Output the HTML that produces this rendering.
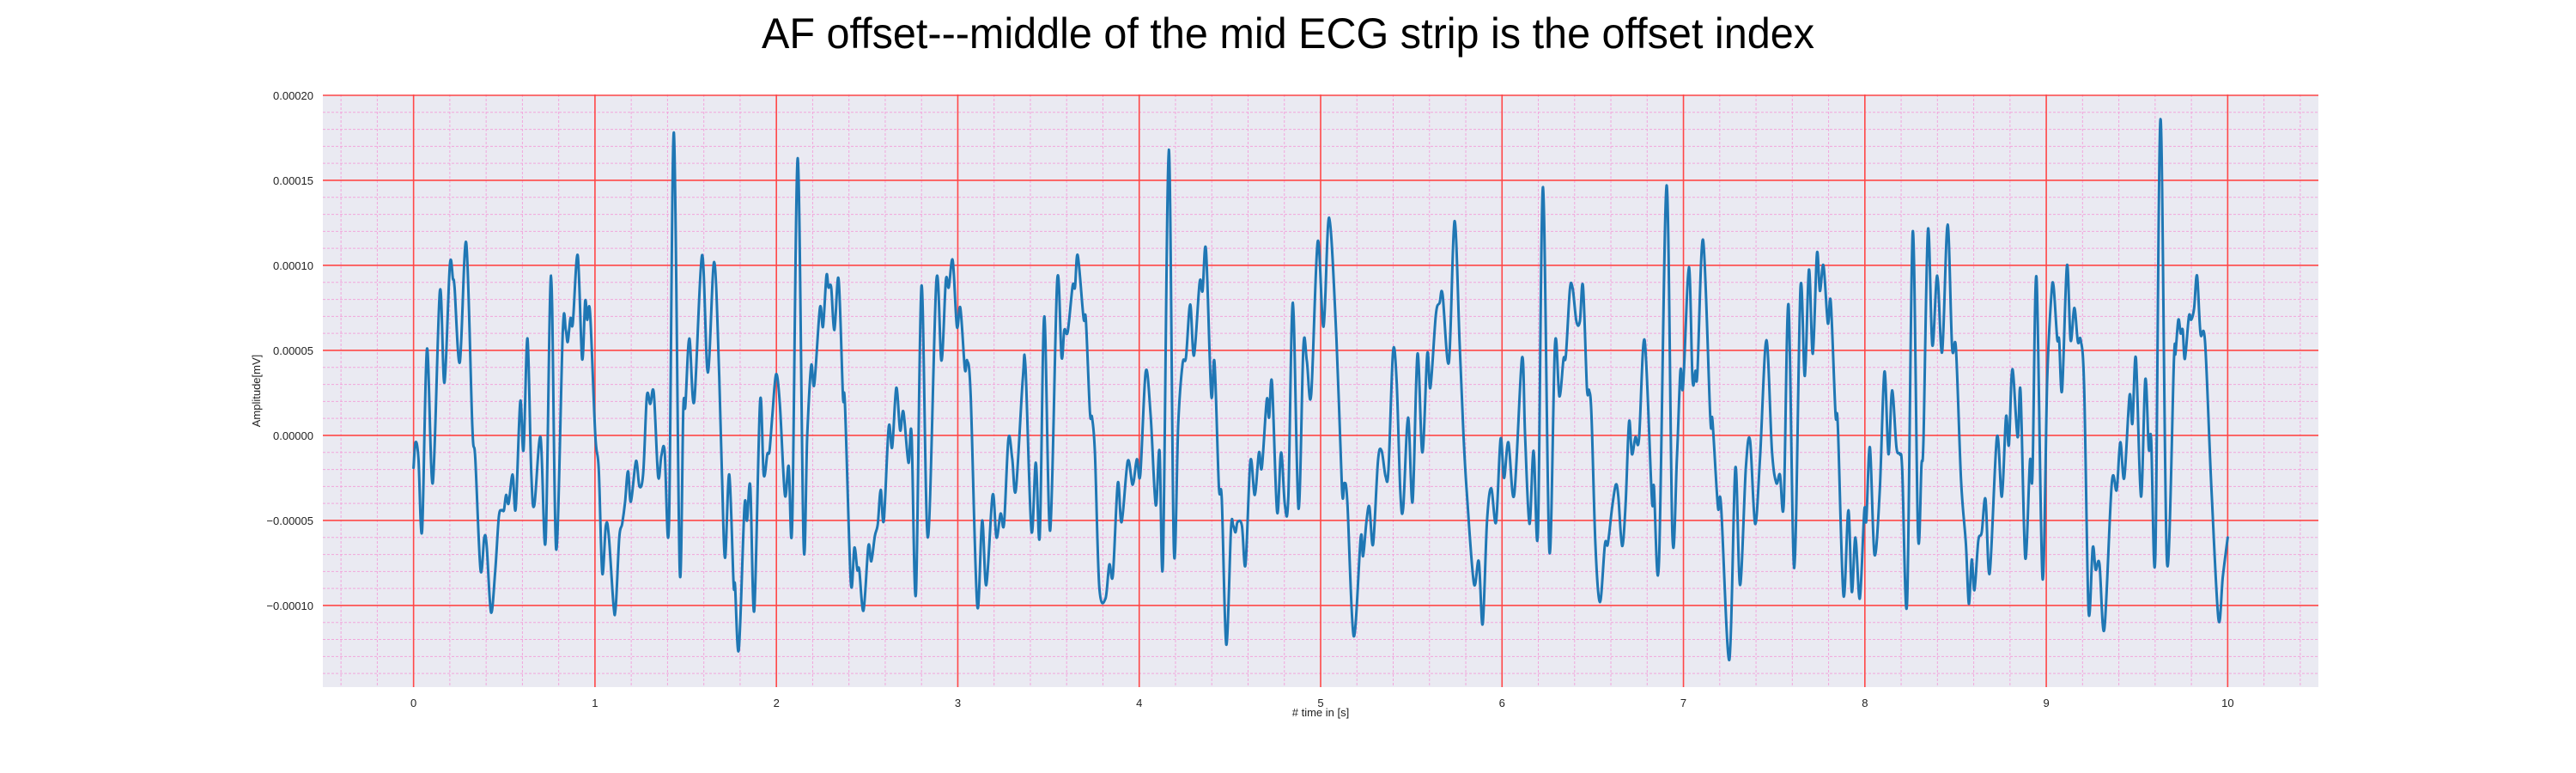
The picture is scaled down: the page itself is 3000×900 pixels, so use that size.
<!DOCTYPE html>
<html><head><meta charset="utf-8"><title>AF offset chart</title>
<style>
html,body{margin:0;padding:0;background:#fff;}
svg{display:block;font-family:"Liberation Sans",Arial,sans-serif;}
</style></head>
<body>
<svg id="chart" width="3000" height="900" viewBox="0 0 3000 900" xmlns="http://www.w3.org/2000/svg">
<text x="1500" y="56" text-anchor="middle" font-size="50" textLength="1226" lengthAdjust="spacingAndGlyphs" fill="#000">AF offset---middle of the mid ECG strip is the offset index</text>
<rect x="376" y="110" width="2324" height="690" fill="#eaeaf2"/>
<g id="grid"></g>
<g id="ticks"></g>
<g id="series"></g>
<text x="1538" y="834" text-anchor="middle" font-size="13" fill="#222"># time in [s]</text>
<text transform="translate(303,455) rotate(-90)" text-anchor="middle" font-size="13" fill="#222">Amplitude[mV]</text>
</svg>
<script>
// values in units of 1e-5 mV
const valueScale = 1e-5;
const xTickLabels = ["0","1","2","3","4","5","6","7","8","9","10"];
const yTickValues = [-0.0001,-0.00005,0,0.00005,0.0001,0.00015,0.0002];
const yTickLabels = ["\u22120.00010","\u22120.00005","0.00000","0.00005","0.00010","0.00015","0.00020"];
const times = [0,0.011,0.027,0.047,0.074,0.106,0.145,0.17,0.2,0.217,0.226,0.255,0.29,0.324,0.34,0.369,0.39,0.403,0.427,0.45,0.47,0.486,0.498,0.51,0.524,0.546,0.563,0.588,0.606,0.628,0.649,0.666,0.7,0.728,0.758,0.786,0.823,0.839,0.85,0.865,0.878,0.905,0.929,0.946,0.957,0.973,1.002,1.021,1.04,1.06,1.076,1.103,1.115,1.134,1.15,1.166,1.182,1.198,1.226,1.245,1.266,1.286,1.305,1.324,1.348,1.366,1.384,1.408,1.435,1.467,1.487,1.498,1.52,1.547,1.59,1.622,1.657,1.685,1.7,1.717,1.74,1.764,1.772,1.793,1.824,1.838,1.856,1.878,1.91,1.93,1.95,1.962,1.978,1.998,
2.019,2.047,2.068,2.087,2.118,2.15,2.17,2.192,2.209,2.24,2.257,2.276,2.287,2.302,2.32,2.343,2.367,2.378,2.41,2.43,2.446,2.457,2.48,2.507,2.523,2.543,2.559,2.575,2.592,2.619,2.638,2.661,2.682,2.7,2.728,2.745,2.769,2.8,2.835,2.882,2.91,2.934,2.95,2.972,2.995,3.014,3.039,3.052,3.071,3.107,3.134,3.157,3.192,3.213,3.236,3.255,3.279,3.3,3.32,3.358,3.373,3.406,3.43,3.452,3.477,3.509,3.548,3.572,3.587,3.606,3.633,3.646,3.661,3.693,3.706,3.728,3.74,3.756,3.78,3.814,3.835,3.855,3.882,3.903,3.937,3.964,3.987,4.006,
4.036,4.063,4.091,4.112,4.131,4.163,4.191,4.215,4.239,4.258,4.281,4.302,4.333,4.349,4.368,4.397,4.415,4.439,4.455,4.48,4.506,4.518,4.531,4.542,4.566,4.586,4.613,4.637,4.66,4.676,4.703,4.716,4.732,4.76,4.782,4.803,4.822,4.847,4.878,4.905,4.924,4.948,4.984,5.016,5.047,5.087,5.118,5.131,5.147,5.182,5.221,5.234,5.253,5.269,5.289,5.316,5.336,5.358,5.374,5.399,5.419,5.439,5.455,5.482,5.507,5.534,5.561,5.588,5.605,5.635,5.656,5.672,5.707,5.738,5.766,5.787,5.806,5.845,5.872,5.893,5.917,5.94,5.967,5.992,6.011,6.035,
6.067,6.11,6.127,6.151,6.174,6.198,6.226,6.261,6.292,6.316,6.339,6.352,6.374,6.39,6.41,6.429,6.446,6.468,6.48,6.493,6.515,6.54,6.567,6.583,6.606,6.627,6.641,6.662,6.681,6.7,6.716,6.735,6.755,6.786,6.826,6.837,6.865,6.907,6.939,6.964,6.983,6.998,7.03,7.05,7.066,7.077,7.108,7.148,7.16,7.19,7.207,7.253,7.286,7.312,7.344,7.367,7.395,7.422,7.457,7.488,7.512,7.532,7.553,7.579,7.611,7.645,7.669,7.692,7.713,7.736,7.752,7.772,7.796,7.812,7.838,7.851,7.882,7.909,7.928,7.948,7.972,7.997,8.008,8.028,8.053,8.082,8.108,
8.13,8.15,8.174,8.193,8.206,8.233,8.264,8.293,8.312,8.323,8.348,8.372,8.399,8.426,8.456,8.481,8.502,8.53,8.557,8.573,8.589,8.604,8.625,8.644,8.665,8.688,8.728,8.755,8.778,8.794,8.813,8.842,8.858,8.884,8.91,8.924,8.946,8.979,9.005,9.027,9.04,9.06,9.071,9.087,9.114,9.134,9.155,9.174,9.19,9.209,9.233,9.256,9.272,9.293,9.32,9.361,9.388,9.408,9.43,9.459,9.475,9.494,9.522,9.546,9.565,9.578,9.601,9.63,9.665,9.704,9.712,9.728,9.741,9.752,9.764,9.786,9.799,9.815,9.831,9.85,9.875,9.91,9.949,9.973,10.0];
const amplitudes = [-1.9,-0.4,-1.35,-5.6,5.1,-2.8,8.5,3.1,10.0,9.2,8.7,4.3,11.35,0.5,-1.35,-7.9,-6.0,-6.5,-10.4,-8.0,-4.8,-4.4,-4.4,-3.5,-4.0,-2.3,-4.3,2.0,-0.85,5.7,-2.3,-4.1,-0.1,-6.2,9.4,-6.7,6.2,6.2,5.5,6.9,6.6,10.6,4.5,7.9,6.8,7.2,0.0,-2.0,-8.1,-5.3,-5.9,-10.1,-10.0,-6.0,-5.2,-3.9,-2.1,-3.9,-1.5,-3.0,-2.2,2.3,1.85,2.5,-2.4,-1.2,-0.9,-5.2,17.8,-7.9,1.6,1.7,5.7,2.0,10.6,3.7,10.2,3.5,-2.3,-7.2,-2.3,-8.7,-8.8,-12.6,-4.2,-5.0,-3.0,-10.3,2.0,-2.3,-1.1,-0.9,1.2,3.6,
1.85,-3.5,-1.8,-5.2,16.3,-6.4,0.0,4.1,3.0,7.5,6.4,9.4,8.7,8.7,6.2,9.2,2.3,1.85,-8.6,-6.6,-7.9,-7.9,-10.3,-6.5,-7.4,-5.9,-5.2,-3.2,-5.0,0.5,-0.7,2.8,0.3,1.4,-1.6,0.1,-9.3,8.8,-6.0,9.1,4.4,9.1,8.7,10.3,6.4,7.5,3.9,4.4,2.3,-10.0,-5.0,-8.8,-3.5,-6.0,-4.6,-5.2,-0.2,-1.35,-3.2,3.3,4.0,-5.6,-1.6,-5.9,7.0,-5.6,9.1,4.6,6.2,6.1,8.8,8.7,10.6,6.9,6.8,1.4,1.05,-1.1,-8.9,-9.6,-7.6,-8.2,-2.8,-5.1,-1.5,-2.9,-1.4,-2.3,
3.75,1.2,-4.1,-0.9,-7.4,16.8,-6.7,0.7,4.2,4.6,7.7,4.7,9.0,8.5,10.9,2.4,4.3,-3.0,-3.75,-12.3,-5.5,-5.3,-5.7,-5.1,-5.3,-7.6,-1.5,-3.5,-1.0,-1.9,2.1,1.05,3.1,-4.5,-1.0,-4.1,-3.6,7.8,-4.3,5.2,4.4,2.4,11.4,6.4,12.8,5.7,-3.2,-2.8,-3.9,-11.8,-6.0,-7.1,-5.0,-4.2,-6.4,-1.5,-0.9,-2.4,-2.0,4.9,3.2,-3.2,-4.3,1.05,-3.9,4.8,-1.0,4.8,2.8,7.1,7.8,8.3,4.3,12.6,5.5,0.1,-3.4,-8.7,-7.4,-11.1,-5.1,-3.1,-5.1,-0.2,-2.5,-0.4,
-3.5,4.55,0.0,-5.2,-0.9,-5.65,14.6,-6.8,5.4,2.3,4.5,4.7,8.6,8.6,6.7,6.7,8.8,2.8,2.65,1.2,-6.5,-9.8,-6.4,-6.4,-4.3,-2.9,-3.6,-6.5,-4.1,0.8,-1.1,-0.1,-0.2,5.6,-3.75,-3.0,-7.5,14.7,-5.9,-1.35,3.8,2.9,9.9,3.3,3.8,3.7,11.5,1.05,0.9,-4.2,-4.1,-13.2,-1.9,-8.8,-1.9,-0.3,-5.2,-1.35,5.6,-0.9,-2.8,-2.3,-4.0,7.7,-7.8,8.65,3.5,9.75,4.8,10.7,8.5,10.0,6.6,7.85,1.3,0.6,-9.4,-4.4,-9.2,-6.0,-9.6,-4.4,-5.0,-0.7,-7.0,-3.3,3.75,
-1.1,2.65,-0.7,-1.1,-2.0,-9.8,12.0,-5.8,-1.8,-0.2,12.1,5.3,9.4,4.9,12.4,5.2,5.1,-2.6,-6.4,-9.9,-7.3,-9.1,-6.2,-5.7,-3.75,-8.1,-0.1,-3.6,1.1,-0.55,3.9,-0.1,2.6,-7.2,-1.5,-2.3,9.3,-8.4,3.2,8.1,8.8,5.7,5.6,2.65,10.0,5.6,7.5,5.5,5.6,2.8,-10.3,-6.6,-7.9,-7.55,-11.4,-2.8,-3.2,-0.4,-2.5,2.35,0.7,4.55,-3.6,3.3,-0.8,-0.2,-7.1,18.6,-7.4,4.5,4.8,6.8,6.0,6.2,4.5,7.0,6.8,7.5,9.4,6.0,5.5,-3.0,-10.8,-8.3,-6.0];

const NS = "http://www.w3.org/2000/svg";
const PX0 = 376, PX1 = 2700, PY0 = 110, PY1 = 800;
const XMIN = -0.5, XMAX = 10.5, YMIN = -14.8e-5, YMAX = 20.05e-5;
function xs(t){ return PX0 + (t - XMIN) / (XMAX - XMIN) * (PX1 - PX0); }
function ys(v){ return PY1 - (v - YMIN) / (YMAX - YMIN) * (PY1 - PY0); }

const grid = document.getElementById('grid');
const ticks = document.getElementById('ticks');
function line(x1,y1,x2,y2,stroke,w,dash){
  const l = document.createElementNS(NS,'line');
  l.setAttribute('x1',x1); l.setAttribute('y1',y1); l.setAttribute('x2',x2); l.setAttribute('y2',y2);
  l.setAttribute('stroke',stroke); l.setAttribute('stroke-width',w);
  if(dash) l.setAttribute('stroke-dasharray',dash);
  grid.appendChild(l); return l;
}
for(let i=-2;i<=52;i++){
  const t=i*0.2; if(t<XMIN||t>XMAX) continue;
  const l=line(xs(t),PY0,xs(t),PY1,'#f2a6dc',1,'3,2');
  
  
}
for(let i=-14;i<=20;i++){
  const v=i*1e-5;
  const l=line(PX0,ys(v),PX1,ys(v),'#f2a6dc',1,'3,2');
  
  
}
xTickLabels.forEach((lab,i)=>{
  const x=xs(i);
  const l=line(x,PY0,x,PY1,'#ff4747',1.6);
  
  
  const tx=document.createElementNS(NS,'text');
  tx.setAttribute('x',x); tx.setAttribute('y',823); tx.setAttribute('text-anchor','middle');
  tx.setAttribute('font-size','13'); tx.setAttribute('fill','#222'); tx.textContent=lab;
  
  
  ticks.appendChild(tx);
});
yTickValues.forEach((v,i)=>{
  const y=ys(v);
  const l=line(PX0,y,PX1,y,'#ff4747',1.6);
  
  
  const tx=document.createElementNS(NS,'text');
  tx.setAttribute('x',365); tx.setAttribute('y',y+5); tx.setAttribute('text-anchor','end');
  tx.setAttribute('font-size','13'); tx.setAttribute('fill','#222'); tx.textContent=yTickLabels[i];
  
  
  ticks.appendChild(tx);
});
// smooth series (Catmull-Rom -> cubic Bezier)
const P = times.map((t,i)=>[xs(t), ys(amplitudes[i]*valueScale)]);
let d = 'M'+P[0][0].toFixed(1)+','+P[0][1].toFixed(1);
for(let i=0;i<P.length-1;i++){
  const p0=P[Math.max(0,i-1)], p1=P[i], p2=P[i+1], p3=P[Math.min(P.length-1,i+2)];
  const c1x=p1[0]+(p2[0]-p0[0])/6, c1y=p1[1]+(p2[1]-p0[1])/6;
  const c2x=p2[0]-(p3[0]-p1[0])/6, c2y=p2[1]-(p3[1]-p1[1])/6;
  d+=' C'+c1x.toFixed(1)+','+c1y.toFixed(1)+' '+c2x.toFixed(1)+','+c2y.toFixed(1)+' '+p2[0].toFixed(1)+','+p2[1].toFixed(1);
}
const pl=document.createElementNS(NS,'path');
pl.setAttribute('d',d); pl.setAttribute('fill','none');
pl.setAttribute('stroke','#1f77b4'); pl.setAttribute('stroke-width','3');
pl.setAttribute('stroke-linejoin','round'); pl.setAttribute('stroke-linecap','round');


document.getElementById('series').appendChild(pl);
</script>
</body></html>
